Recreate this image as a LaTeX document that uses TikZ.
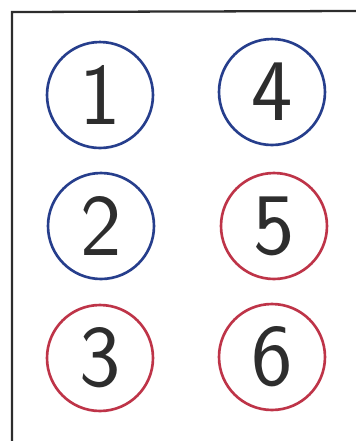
\documentclass[tikz,border=0pt]{standalone}
\usepackage{tikz}
\definecolor{penblue}{RGB}{38,62,140}
\definecolor{penred}{RGB}{190,52,72}
\definecolor{pencil}{RGB}{45,45,45}
\tikzset{
  ball/.style={circle,draw,line width=1.5pt,minimum size=2.12cm,inner sep=0pt,
    text=pencil,font=\sffamily\fontsize{50}{50}\selectfont},
  blueball/.style={ball,draw=penblue},
  redball/.style={ball,draw=penred}
}
\begin{document}
\begin{tikzpicture}[x=0.02cm,y=-0.02cm]
            \useasboundingbox (0,0) rectangle (356,441);
            \draw[line width=1.3pt,pencil] (12,441)--(12,12)--(356,11);
            \node[blueball] (b1) at (100,95) {1};
            \node[blueball] (b2) at (101,226) {2};
            \node[redball] (b3) at (100,358) {3};
            \node[blueball] (b4) at (272,92) {4};
            \node[redball] (b5) at (274,226) {5};
            \node[redball] (b6) at (272,357) {6};
        \end{tikzpicture}
\end{document}
